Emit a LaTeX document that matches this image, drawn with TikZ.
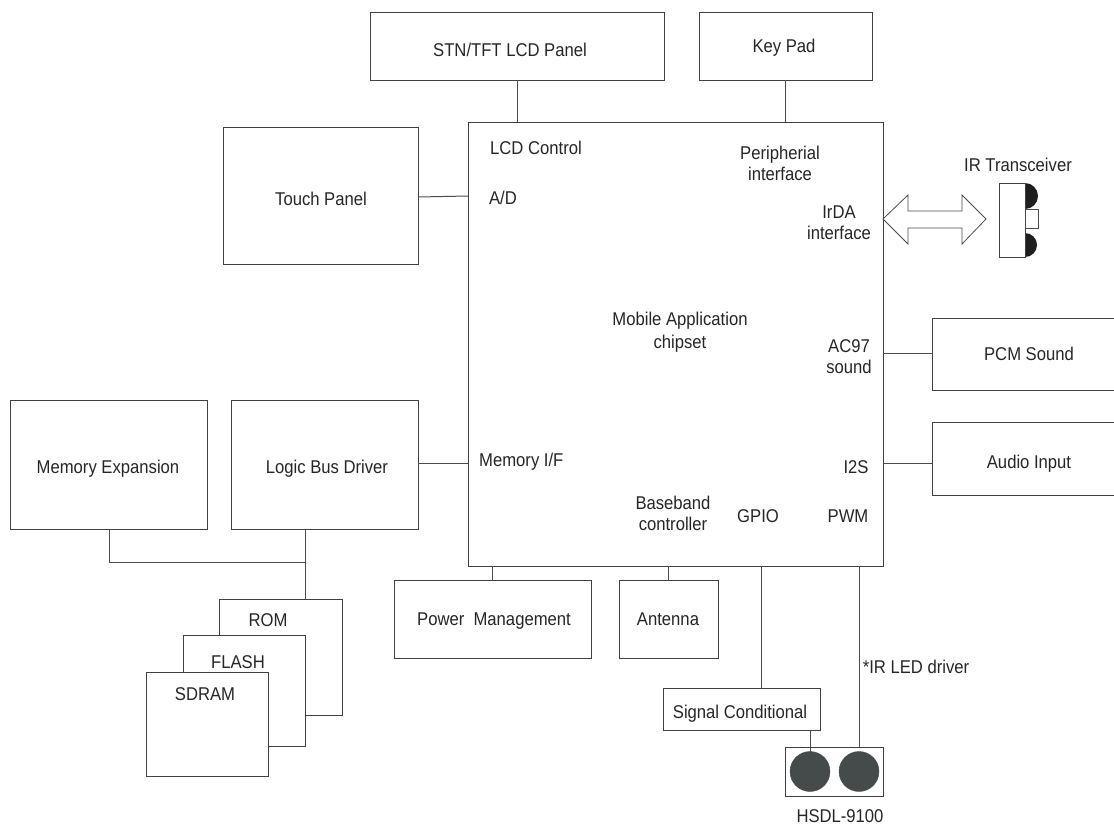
\documentclass[tikz,border=0pt]{standalone}
\usepackage{fontspec}
\setmainfont[FakeStretch=0.9]{Liberation Sans}
\definecolor{led}{HTML}{454B4B}
\tikzset{
  line/.style={draw=black!70,line width=1pt},
  box/.style={draw=black!75,line width=1pt,fill=white},
  lbl/.style={font=\fontsize{18.5}{21}\selectfont,text=black!85,align=center,inner sep=0pt},
}
\newcommand{\bx}[5]{\node[box,minimum width=#4-#2,minimum height=#5-#3,anchor=north west,inner sep=0pt] (#1) at (#2,#3) {};}
\begin{document}
\begin{tikzpicture}[x=1pt,y=-1pt]
\useasboundingbox (0,0) rectangle (1114,825);
% connector end points
\coordinate (lcdline) at (517,122);
\coordinate (keyline) at (785,122);
\coordinate (tpA) at (418,197);
\coordinate (tpB) at (468,196);
\coordinate (bus) at (305,562);
% boxes
\bx{main}{468}{122}{883}{566}
\bx{lcd}{370}{12}{664}{80}
\bx{key}{699}{12}{872}{80}
\bx{touch}{223}{127}{418}{264}
\bx{memexp}{10}{400}{207}{529}
\bx{logic}{231}{400}{418}{529}
\bx{pcm}{932}{318}{1120}{390}
\bx{audio}{932}{422}{1120}{495}
\bx{power}{394}{580}{591}{658}
\bx{antenna}{619}{580}{718}{658}
\bx{signal}{663}{688}{820}{730}
\bx{hsdl}{785}{747}{883}{796}
\bx{rom}{219}{599}{341.5}{715}
\bx{flash}{183}{635}{305}{746}
\bx{sdram}{145.5}{672}{268}{776}
% connectors
\draw[line] (517,80) -- (lcdline);
\draw[line] (785,80) -- (keyline);
\draw[line] (tpA) -- (tpB);
\draw[line] (883,353) -- (932,353);
\draw[line] (883,463) -- (932,463);
\draw[line] (418,463) -- (468,463);
\draw[line] (109,529) -- (109,562) -- (bus);
\draw[line] (305,529) -- (305,599);
\draw[line] (492,566) -- (492,580);
\draw[line] (668,566) -- (668,580);
\draw[line] (761,566) -- (761,688);
\draw[line] (859,566) -- (859,747);
\draw[line] (810,730) -- (810,752);
% LEDs
\fill[draw=black!70,line width=.4pt,fill=led] (810,771.5) circle (20) (859,771.5) circle (20);
% IR arrow
\draw[draw=black!70,line width=.8pt,fill=white] (883,219) -- (908,195) -- (908,211) -- (962,211) -- (962,195) -- (986,219) -- (962,244) -- (962,228) -- (908,228) -- (908,244) -- cycle;
% transceiver
\draw[fill=black!88,draw=none] (1025,183) arc[start angle=-90,end angle=90,radius=13] -- cycle;
\draw[fill=black!88,draw=none] (1025,233) arc[start angle=-90,end angle=90,radius=12] -- cycle;
\draw[box] (999,183) rectangle (1025,257);
\draw[line,line width=.8pt] (1025,209) rectangle (1038,228);
% labels
\node[lbl] (t1) at (510,50) {STN/TFT LCD Panel};
\node[lbl] (t2) at (784,48) {Key Pad};
\node[lbl] (t3) at (321,199) {Touch Panel};
\node[lbl] (t4) at (536,148) {LCD Control};
\node[lbl] (t5) at (503,198) {A/D};
\node[lbl] (t6) at (780,163.5) {Peripherial\\interface};
\node[lbl] (t7) at (839,222.5) {IrDA\\interface};
\node[lbl] (t8) at (1018,165) {IR Transceiver};
\node[lbl] (t9) at (680,332) {Mobile Application\\[2pt]chipset};
\node[lbl] (t10) at (849,357) {AC97\\sound};
\node[lbl] (t11) at (1029,354) {PCM Sound};
\node[lbl] (t12) at (1029,464) {Audio Input};
\node[lbl] (t13) at (856,467) {I2S};
\node[lbl] (t14) at (479,462) [anchor=west] {Memory I/F};
\node[lbl] (t15) at (673,513) {Baseband\\controller};
\node[lbl] (t16) at (758,516) {GPIO};
\node[lbl] (t17) at (848,516) {PWM};
\node[lbl] (t18) at (108,469) {Memory Expansion};
\node[lbl] (t19) at (327,469) {Logic Bus Driver};
\node[lbl] (t20) at (494,621) {Power~ Management};
\node[lbl] (t21) at (668,619) {Antenna};
\node[lbl] (t22) at (268,620) {ROM};
\node[lbl] (t23) at (238,662) {FLASH};
\node[lbl] (t24) at (205,694) {SDRAM};
\node[lbl] (t25) at (740,714) {Signal Conditional};
\node[lbl] (t26) at (916,667) {*IR LED driver};
\node[lbl] (t27) at (840,816) {HSDL-9100};
\end{tikzpicture}
\end{document}
